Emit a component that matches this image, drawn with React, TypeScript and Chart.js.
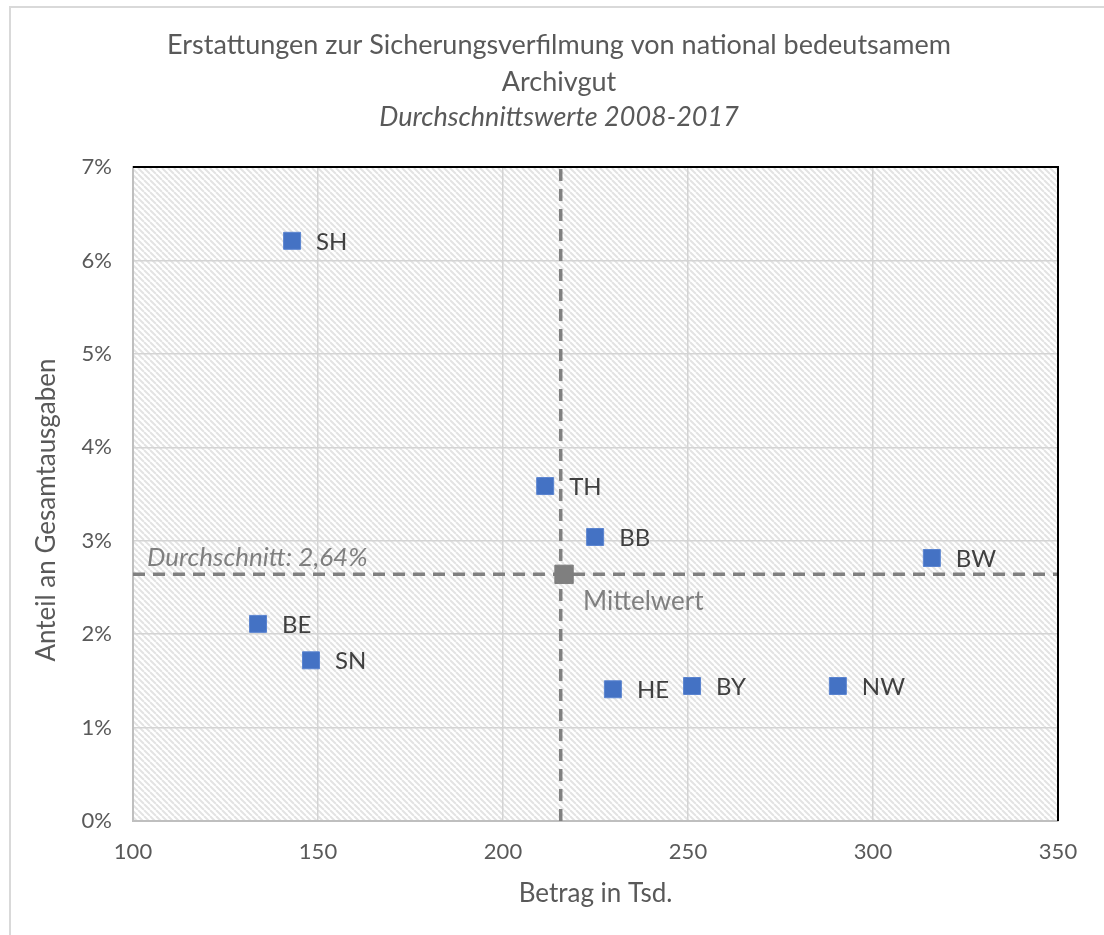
import React, { useEffect, useRef } from "react";
import { Chart, registerables } from "chart.js";

Chart.register(...registerables);

const stateCodes = ["SH", "TH", "BB", "BW", "BE", "SN", "HE", "BY", "NW"];
const amounts = [143, 211.4, 224.9, 315.9, 133.8, 148.1, 229.7, 251.1, 290.5];
const shares = [6.21, 3.585, 3.04, 2.815, 2.11, 1.72, 1.41, 1.445, 1.445];
const meanAmount = 216.5;
const meanShare = 2.64;
const meanLineAmount = 215.6;
const xRange = [100, 350];
const yRange = [0, 7];
const titleLines = [
  "Erstattungen zur Sicherungsverfilmung von national bedeutsamem",
  "Archivgut",
];
const subtitleText = "Durchschnittswerte 2008-2017";
const xTitle = "Betrag in Tsd.";
const yTitle = "Anteil an Gesamtausgaben";
const meanLabel = "Mittelwert";
const averageLabel = "Durchschnitt: 2,64%";

const FONT = "Lato, 'Open Sans', sans-serif";
const TEXT = "#595959";
const GRAY = "#808080";

const decorPlugin = {
  id: "decor",
  beforeDraw(chart: any) {
    const { ctx, chartArea: a } = chart;
    const pc = document.createElement("canvas");
    pc.width = 6;
    pc.height = 6;
    const p = pc.getContext("2d")!;
    p.fillStyle = "#ffffff";
    p.fillRect(0, 0, 6, 6);
    p.strokeStyle = "#e3e3e3";
    p.lineWidth = 2;
    for (const k of [-6, 0, 6]) {
      p.beginPath();
      p.moveTo(k, 0);
      p.lineTo(k + 6, 6);
      p.stroke();
    }
    ctx.save();
    ctx.fillStyle = ctx.createPattern(pc, "repeat");
    ctx.fillRect(a.left, a.top, a.width, a.height);
    ctx.restore();
  },
  afterDraw(chart: any) {
    const { ctx, chartArea: a, scales } = chart;
    ctx.save();
    // top and right plot borders
    ctx.strokeStyle = "#000000";
    ctx.lineWidth = 2;
    ctx.beginPath();
    ctx.moveTo(a.left, a.top);
    ctx.lineTo(a.right, a.top);
    ctx.lineTo(a.right, a.bottom);
    ctx.stroke();

    // titles
    ctx.fillStyle = TEXT;
    ctx.textAlign = "center";
    ctx.textBaseline = "middle";
    ctx.font = `27px ${FONT}`;
    ctx.fillText(titleLines[0], 559, 45);
    ctx.fillText(titleLines[1], 559, 82);
    ctx.font = `italic 27px ${FONT}`;
    ctx.fillText(subtitleText, 559, 117);

    // y axis title
    ctx.save();
    ctx.translate(47, 510);
    ctx.rotate(-Math.PI / 2);
    ctx.font = `26px ${FONT}`;
    ctx.fillText(yTitle, 0, 0);
    ctx.restore();

    // data labels
    const meta = chart.getDatasetMeta(0);
    ctx.font = `24px ${FONT}`;
    ctx.fillStyle = "#404040";
    ctx.textAlign = "left";
    meta.data.forEach((el: any, i: number) => {
      ctx.fillText(stateCodes[i], el.x + 24, el.y + 1);
    });

    // mean label
    const mm = chart.getDatasetMeta(1).data[0];
    ctx.fillStyle = GRAY;
    ctx.font = `26px ${FONT}`;
    ctx.fillText(meanLabel, mm.x + 19, mm.y + 27);

    // average label
    ctx.font = `italic 26px ${FONT}`;
    const yy = scales.y.getPixelForValue(meanShare);
    ctx.fillText(averageLabel, a.left + 14, yy - 17);
    ctx.restore();
  },
};

export default function App() {
  const ref = useRef<HTMLCanvasElement>(null);

  useEffect(() => {
    const canvas = ref.current!;
    const chart = new Chart(canvas, {
      type: "scatter",
      data: {
        datasets: [
          {
            data: amounts.map((x, i) => ({ x, y: shares[i] })),
            pointStyle: "rect",
            pointRadius: 12,
            pointHoverRadius: 12,
            backgroundColor: "#4472C4",
            borderColor: "#5a84d0",
            borderWidth: 1,
            order: 0,
          },
          {
            data: [{ x: meanAmount, y: meanShare }],
            pointStyle: "rect",
            pointRadius: 13,
            pointHoverRadius: 13,
            backgroundColor: "#7f7f7f",
            borderColor: "#7f7f7f",
            borderWidth: 1,
            order: 0,
          },
          {
            data: [
              { x: xRange[0], y: meanShare },
              { x: xRange[1], y: meanShare },
            ],
            showLine: true,
            borderColor: GRAY,
            borderWidth: 3.5,
            borderDash: [12, 8],
            pointRadius: 0,
            order: 2,
          } as any,
          {
            data: [
              { x: meanLineAmount, y: yRange[0] },
              { x: meanLineAmount, y: yRange[1] },
            ],
            showLine: true,
            borderColor: GRAY,
            borderWidth: 3.5,
            borderDash: [12, 8],
            pointRadius: 0,
            order: 2,
          } as any,
        ],
      },
      options: {
        responsive: false,
        animation: false,
        devicePixelRatio: 1,
        layout: { padding: { top: 167, right: 46, left: 0, bottom: 0 } },
        plugins: {
          legend: { display: false },
          tooltip: { enabled: false },
          title: { display: false },
        },
        scales: {
          x: {
            type: "linear",
            min: xRange[0],
            max: xRange[1],
            ticks: {
              stepSize: 50,
              color: TEXT,
              font: { family: FONT, size: 22 },
              padding: 18,
            },
            grid: { color: "#d4d4d4", lineWidth: 1.5, drawTicks: false },
            border: { color: "#bfbfbf", width: 2 },
            title: {
              display: true,
              text: xTitle,
              color: TEXT,
              font: { family: FONT, size: 26 },
              padding: { top: 0, bottom: 26 },
            },
            afterFit: (s: any) => {
              s.height = 114;
            },
          },
          y: {
            type: "linear",
            min: yRange[0],
            max: yRange[1],
            ticks: {
              stepSize: 1,
              color: TEXT,
              font: { family: FONT, size: 22 },
              padding: 21,
              callback: (v: any) => `${v}%`,
            },
            grid: { color: "#d4d4d4", lineWidth: 1.5, drawTicks: false },
            border: { color: "#bfbfbf", width: 2 },
            title: { display: false },
            afterFit: (s: any) => {
              s.width = 133;
            },
          },
        },
      } as any,
      plugins: [decorPlugin],
    });
    return () => chart.destroy();
  }, []);

  return (
    <div
      style={{
        position: "absolute",
        left: 0,
        top: 0,
        width: 1104,
        height: 935,
        overflow: "hidden",
        background: "#ffffff",
      }}
    >
      <div
        style={{
          position: "absolute",
          left: 9,
          top: 6,
          width: 1200,
          height: 1100,
          border: "2px solid #d9d9d9",
        }}
      />
      <canvas
        ref={ref}
        width={1104}
        height={935}
        style={{ position: "absolute", left: 0, top: 0, width: 1104, height: 935 }}
      />
    </div>
  );
}
